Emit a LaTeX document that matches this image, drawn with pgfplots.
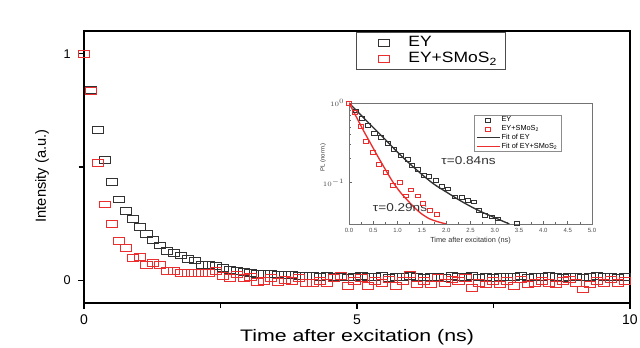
\documentclass[border=0pt]{standalone}
\usepackage{pgfplots}
\pgfplotsset{compat=1.18}
\usepackage{pgfplotstable}
\usepackage{graphicx}
\usepackage{fontspec}
\setmainfont{Liberation Sans}
\definecolor{ey}{RGB}{50,50,50}
\definecolor{ems}{RGB}{235,45,45}
\pgfplotsset{
  mainlegmark/.style={legend image code/.code={\path (0pt,0pt) (22pt,0pt); \draw[##1] plot coordinates {(15.75pt,0pt)};}},
  inslegmark/.style={legend image code/.code={\path (0pt,0pt) (0.6cm,0pt); \draw[##1] plot coordinates {(0.3cm,0pt)};}},
}

\pgfplotstableread{
x y
0.000 1.000
0.127 0.840
0.254 0.664
0.381 0.530
0.508 0.435
0.635 0.357
0.762 0.305
0.889 0.273
1.016 0.236
1.143 0.203
1.270 0.180
1.397 0.154
1.524 0.129
1.651 0.122
1.778 0.110
1.905 0.093
2.032 0.088
2.159 0.070
2.286 0.067
2.413 0.063
2.540 0.056
2.667 0.045
2.794 0.041
2.921 0.038
3.048 0.034
3.175 0.030
3.302 0.030
3.429 0.028
3.556 0.026
3.683 0.023
3.810 0.022
3.937 0.020
4.064 0.019
4.191 0.018
4.318 0.016
4.445 0.020
4.572 0.015
4.699 0.017
4.826 0.013
4.953 0.016
5.080 0.019
5.207 0.014
5.334 0.015
5.461 0.018
5.588 0.012
5.715 0.016
5.842 0.014
5.969 0.020
6.096 0.015
6.223 0.013
6.350 0.017
6.477 0.016
6.604 0.012
6.731 0.018
6.858 0.014
6.985 0.015
7.112 0.019
7.239 0.013
7.366 0.016
7.493 0.012
7.620 0.017
7.747 0.015
7.874 0.014
8.001 0.018
8.128 0.013
8.255 0.016
8.382 0.015
8.509 0.020
8.636 0.014
8.763 0.012
8.890 0.016
9.017 0.017
9.144 0.013
9.271 0.015
9.398 0.018
9.525 0.014
9.652 0.016
9.779 0.013
9.906 0.015
}\eymain

\pgfplotstableread{
x y
0.000 1.000
0.127 0.837
0.254 0.520
0.381 0.335
0.508 0.247
0.635 0.173
0.762 0.141
0.889 0.100
1.016 0.104
1.143 0.070
1.270 0.078
1.397 0.067
1.524 0.041
1.651 0.041
1.778 0.031
1.905 0.034
2.032 0.031
2.159 0.031
2.286 0.031
2.413 0.041
2.540 0.020
2.667 0.012
2.794 0.026
2.921 0.012
3.048 0.015
3.175 -0.006
3.302 -0.003
3.429 0.009
3.556 -0.006
3.683 0.000
3.810 -0.003
3.937 0.012
4.064 -0.010
4.191 -0.010
4.318 -0.003
4.445 -0.010
4.572 0.012
4.699 0.019
4.826 -0.025
4.953 -0.003
5.080 0.012
5.207 -0.025
5.334 -0.003
5.461 -0.010
5.588 0.004
5.715 -0.025
5.842 -0.003
5.969 0.026
6.096 -0.018
6.223 -0.003
6.350 -0.018
6.477 0.012
6.604 -0.010
6.731 0.004
6.858 -0.003
6.985 0.012
7.112 -0.032
7.239 -0.010
7.366 -0.018
7.493 -0.003
7.620 -0.018
7.747 -0.003
7.874 -0.025
8.001 0.004
8.128 -0.018
8.255 -0.010
8.382 -0.003
8.509 -0.010
8.636 -0.018
8.763 -0.003
8.890 0.004
9.017 -0.010
9.144 -0.040
9.271 -0.018
9.398 -0.003
9.525 -0.010
9.652 0.004
9.779 -0.010
9.906 -0.003
}\emsmain

\begin{document}
\begin{tikzpicture}
\begin{axis}[
  at={(0,0)}, anchor=south west,
  scale only axis, width=409.5pt, height=204pt,
  xmin=0, xmax=10, ymin=-0.1, ymax=1.1,
  xtick={0,5,10}, minor xtick={2.5,7.5},
  ytick={0,1}, minor ytick={0.5},
  xtick pos=bottom, ytick pos=left,
  tick align=outside,
  major tick length=4.5pt, minor tick length=4pt,
  axis line style={line width=1pt, black},
  every tick/.style={line width=1pt, black},
  /pgf/number format/assume math mode=true,
  x tick label style={font=\fontsize{10.5}{12}\selectfont, yshift=-1pt},
  y tick label style={font=\fontsize{9.5}{11}\selectfont, xshift=-2pt},
  xlabel={\scalebox{1.28}[1]{Time after excitation (ns)}},
  xlabel style={font=\fontsize{12.5}{14}\selectfont, at={(axis description cs:0.5,0)}, anchor=center, yshift=-25.5pt},
  ylabel={Intensity (a.u.)},
  ylabel style={font=\fontsize{11}{13}\selectfont, at={(axis description cs:0,0.467)}, anchor=center, yshift=31.5pt},
  legend style={at={(rel axis cs:0.498,0.996)}, anchor=north west, draw=black!70, line width=0.6pt,
    font=\fontsize{11.2}{12}\selectfont, inner xsep=4.5pt, inner ysep=2.5pt,
    nodes={inner ysep=0.5pt}, row sep=1.8pt,
    /tikz/every odd column/.append style={column sep=10pt}},
  legend cell align=left,
]
\addplot[only marks, ey, mark=square, mark size=2.6pt, mark options={xscale=1.6, line width=0.6pt}, mainlegmark] table[x=x,y=y] {\eymain};
\addlegendentry{\scalebox{1.17}[1]{EY}}
\addplot[only marks, ems, mark=square, mark size=2.6pt, mark options={xscale=1.6, line width=0.6pt}, mainlegmark] table[x=x,y=y] {\emsmain};
\addlegendentry{\scalebox{1.17}[1]{EY+SMoS\textsubscript{2}}}
\end{axis}

\begin{axis}[
  at={(198.75pt,59.25pt)}, anchor=south west,
  scale only axis, width=182.25pt, height=90.75pt,
  xmin=0, xmax=5, ymode=log, ymin=0.03, ymax=1,
  xtick={0,0.5,...,5}, minor x tick num=1,
  ytick={0.1,1},
  xtick pos=bottom, ytick pos=left,
  tick align=inside,
  major tick length=2pt, minor tick length=1.2pt,
  axis line style={line width=0.6pt, black!55},
  every tick/.style={line width=0.4pt, black!60},
  axis background/.style={fill=white},
  /pgf/number format/assume math mode=true,
  x tick label style={font=\fontsize{4.5}{5}\selectfont, text=black!70, /pgf/number format/fixed, /pgf/number format/fixed zerofill, /pgf/number format/precision=1},
  y tick label style={font=\fontsize{4}{5}\selectfont, text=black!70},
  xlabel={Time after excitation (ns)},
  xlabel style={font=\fontsize{5.5}{6}\selectfont, text=black!80, at={(axis description cs:0.5,0)}, anchor=center, yshift=-12.5pt},
  ylabel={PL (norm.)},
  ylabel style={font=\fontsize{4.5}{5}\selectfont, text=black!80, at={(axis description cs:0,0.55)}, anchor=center, yshift=19.5pt},
  legend style={at={(rel axis cs:0.514,0.901)}, anchor=north west, draw=black!45, line width=0.4pt,
    font=\fontsize{5.5}{6}\selectfont, inner xsep=1.5pt, inner ysep=0.8pt,
    nodes={inner xsep=1pt, inner ysep=0.3pt}, row sep=0.6pt},
  legend cell align=left,
]
\addplot[only marks, ey, mark=square, mark size=1.4pt, mark options={xscale=1.35, line width=0.4pt}, inslegmark] coordinates {
(0,1) (0.13,0.80) (0.26,0.64) (0.38,0.52) (0.52,0.42) (0.66,0.37) (0.79,0.31) (0.93,0.26) (1.07,0.22) (1.20,0.195) (1.30,0.166) (1.41,0.145) (1.53,0.123) (1.65,0.12) (1.78,0.107) (1.91,0.089) (2.04,0.083) (2.18,0.066) (2.32,0.065) (2.45,0.06) (2.56,0.057) (2.68,0.045) (2.80,0.039) (2.94,0.037) (3.07,0.035) (3.45,0.0305)};
\addlegendentry{EY}
\addplot[only marks, ems, mark=square, mark size=1.4pt, mark options={xscale=1.35, line width=0.4pt}, inslegmark] coordinates {
(0,1) (0.12,0.76) (0.24,0.51) (0.35,0.33) (0.48,0.24) (0.62,0.17) (0.76,0.135) (0.90,0.093) (1.04,0.10) (1.17,0.068) (1.28,0.081) (1.42,0.068) (1.52,0.055) (1.66,0.045) (1.80,0.04)};
\addlegendentry{EY+SMoS\textsubscript{2}}
\addplot[ey, line width=1pt, smooth] coordinates {
(0,1) (0.25,0.70) (0.5,0.49) (0.75,0.345) (1.0,0.24) (1.25,0.172) (1.5,0.126) (1.75,0.095) (2.0,0.076) (2.25,0.061) (2.5,0.050) (2.75,0.042) (3.0,0.036) (3.3,0.030)};
\addlegendentry{Fit of EY}
\addplot[ems, line width=1pt, smooth] coordinates {
(0,1) (0.15,0.67) (0.3,0.447) (0.45,0.305) (0.6,0.209) (0.75,0.145) (0.9,0.102) (1.05,0.076) (1.2,0.060) (1.35,0.048) (1.5,0.040) (1.65,0.035) (1.8,0.0324) (2.0,0.030)};
\addlegendentry{Fit of EY+SMoS\textsubscript{2}}
\node[font=\fontsize{8.5}{10}\selectfont, text=black!80] at (axis cs:2.46,0.19) {\scalebox{1.2}[1]{τ=0.84ns}};
\node[font=\fontsize{8.5}{10}\selectfont, text=black!80] at (axis cs:1.05,0.048) {\scalebox{1.2}[1]{τ=0.29ns}};
\end{axis}
\pgfresetboundingbox
\path (-63pt,-33.75pt) rectangle (417pt,227.25pt);
\end{tikzpicture}
\end{document}
